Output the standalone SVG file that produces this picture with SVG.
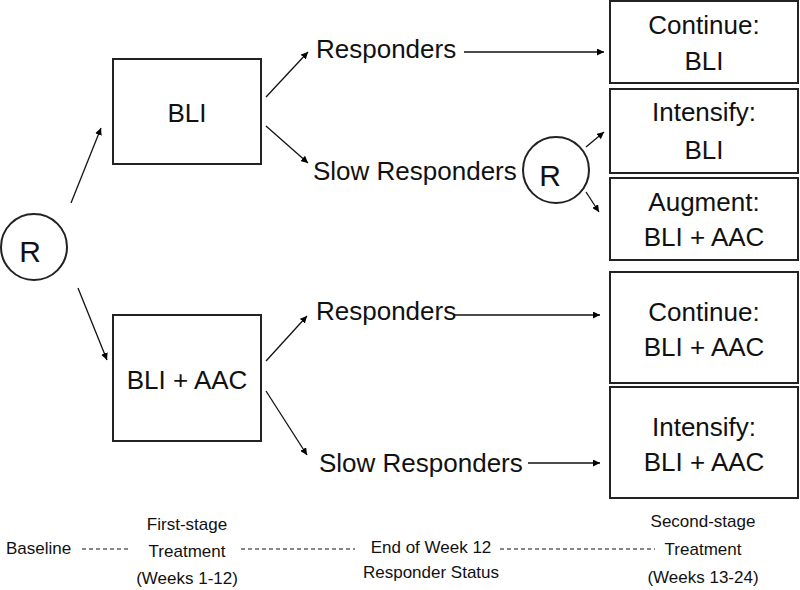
<svg xmlns="http://www.w3.org/2000/svg" width="800" height="590" viewBox="0 0 800 590">
<defs>
<marker id="ah" viewBox="0 0 10 10" refX="10" refY="5" markerWidth="7" markerHeight="7" markerUnits="userSpaceOnUse" orient="auto">
<path d="M0,0 L10,5 L0,10 z" fill="#000"/>
</marker>
<style>
.box{fill:#fff;stroke:#222;stroke-width:2}
.t{font-family:"Liberation Sans",Arial,sans-serif;font-size:26px;fill:#111}
.c{text-anchor:middle}
.r{font-size:30px}
.s{font-family:"Liberation Sans",Arial,sans-serif;font-size:17px;fill:#111}
.a{stroke:#111;stroke-width:1.3;fill:none;marker-end:url(#ah)}
.d{stroke:#111;stroke-width:1;stroke-dasharray:4,3;fill:none}
</style>
</defs>
<rect width="800" height="590" fill="#fff"/>
<g id="connectors">
<line class="a" x1="71" y1="203" x2="101" y2="128"/>
<line class="a" x1="78" y1="288" x2="107" y2="360"/>
<line class="a" x1="266" y1="97" x2="308" y2="52"/>
<line class="a" x1="266" y1="126" x2="308" y2="163"/>
<line class="a" x1="266" y1="361" x2="307" y2="316"/>
<line class="a" x1="266" y1="391" x2="307" y2="455"/>
<line class="a" x1="464" y1="52" x2="604" y2="52"/>
<line class="a" x1="586" y1="147" x2="604" y2="132"/>
<line class="a" x1="586" y1="192" x2="599" y2="212"/>
<line class="a" x1="453" y1="315" x2="600" y2="315"/>
<line class="a" x1="528" y1="463" x2="600" y2="463"/>
</g>
<g id="r1"><circle cx="34" cy="247" r="33" class="box" stroke-width="1.5"/><text class="t c r" x="30" y="262">R</text></g>
<g id="bli"><rect class="box" x="113" y="59" width="148" height="105"/><text class="t c" x="187" y="122">BLI</text></g>
<g id="bliaac"><rect class="box" x="113" y="315" width="148" height="126"/><text class="t c" x="187" y="389">BLI + AAC</text></g>
<g id="resp1"><text class="t" x="316" y="58">Responders</text></g>
<g id="slow1"><text class="t" x="313" y="180">Slow Responders</text></g>
<g id="r2"><circle cx="556" cy="170" r="33" class="box" stroke-width="1.5"/><text class="t c r" x="550" y="186">R</text></g>
<g id="resp2"><text class="t" x="316" y="320">Responders</text></g>
<g id="slow2"><text class="t" x="319" y="472">Slow Responders</text></g>
<g id="cont1"><rect class="box" x="610" y="1" width="188" height="82"/><text class="t c" x="704" y="34">Continue:</text><text class="t c" x="704" y="70">BLI</text></g>
<g id="int1"><rect class="box" x="610" y="89" width="188" height="84"/><text class="t c" x="704" y="121">Intensify:</text><text class="t c" x="704" y="159">BLI</text></g>
<g id="aug"><rect class="box" x="610" y="178" width="188" height="82"/><text class="t c" x="704" y="211">Augment:</text><text class="t c" x="704" y="246">BLI + AAC</text></g>
<g id="cont2"><rect class="box" x="610" y="272" width="188" height="111"/><text class="t c" x="704" y="321">Continue:</text><text class="t c" x="704" y="356">BLI + AAC</text></g>
<g id="int2"><rect class="box" x="610" y="387" width="188" height="111"/><text class="t c" x="704" y="436">Intensify:</text><text class="t c" x="704" y="471">BLI + AAC</text></g>
<g id="timeline">
<text class="s" x="6" y="554">Baseline</text>
<line class="d" x1="82" y1="549" x2="130" y2="549"/>
<text class="s c" x="187" y="530">First-stage</text>
<text class="s c" x="187" y="557">Treatment</text>
<text class="s c" x="187" y="584">(Weeks 1-12)</text>
<line class="d" x1="241" y1="549" x2="355" y2="549"/>
<text class="s c" x="431" y="553">End of Week 12</text>
<text class="s c" x="431" y="578">Responder Status</text>
<line class="d" x1="500" y1="549" x2="655" y2="549"/>
<text class="s c" x="703" y="527">Second-stage</text>
<text class="s c" x="703" y="555">Treatment</text>
<text class="s c" x="703" y="583">(Weeks 13-24)</text>
</g>
</svg>
